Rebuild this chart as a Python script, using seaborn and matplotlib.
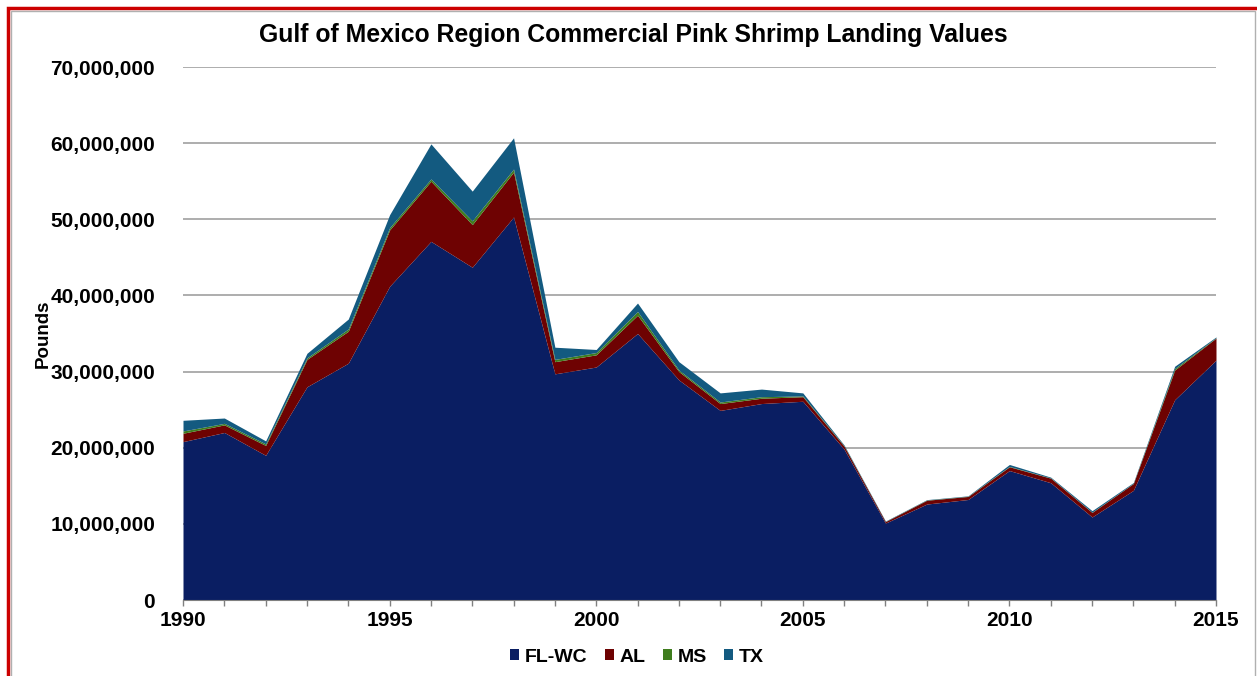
import numpy as np
import pandas as pd
import seaborn as sns
import matplotlib.pyplot as plt
from matplotlib.patches import Rectangle

years = list(range(1990, 2016))

# pounds (millions)
fl_wc = [20.8, 22.0, 19.0, 28.0, 31.1, 41.2, 47.1, 43.7, 50.3, 29.7,
         30.6, 35.0, 28.9, 24.9, 25.8, 26.1, 19.8, 10.1, 12.6, 13.2,
         17.0, 15.4, 10.9, 14.4, 26.3, 31.5]
al = [1.1, 1.0, 1.3, 3.6, 4.2, 7.4, 7.9, 5.6, 5.9, 1.6,
      1.6, 2.4, 1.1, 0.9, 0.7, 0.6, 0.4, 0.2, 0.5, 0.4,
      0.5, 0.6, 0.6, 0.9, 3.9, 2.9]
ms = [0.3, 0.2, 0.2, 0.2, 0.3, 0.3, 0.3, 0.5, 0.4, 0.3,
      0.3, 0.5, 0.2, 0.2, 0.2, 0.1, 0.05, 0.02, 0.03, 0.03,
      0.05, 0.03, 0.03, 0.03, 0.2, 0.05]
tx = [1.4, 0.7, 0.4, 0.6, 1.3, 1.7, 4.6, 3.9, 4.1, 1.6,
      0.4, 1.1, 1.1, 1.2, 1.0, 0.4, 0.1, 0.05, 0.05, 0.05,
      0.25, 0.1, 0.2, 0.1, 0.3, 0.1]

states = ["FL-WC", "AL", "MS", "TX"]
colors = ["#0a1e62", "#6e0202", "#3f7d1e", "#135a80"]

df = pd.DataFrame({"Year": years, "FL-WC": fl_wc, "AL": al, "MS": ms, "TX": tx})
for s in states:
    df[s] = df[s] * 1_000_000

sns.set_style("white")
plt.rcParams["font.family"] = ["Liberation Sans", "DejaVu Sans"]
plt.rcParams["font.weight"] = "bold"
plt.rcParams["text.color"] = "black"
plt.rcParams["xtick.color"] = "#808080"
plt.rcParams["xtick.labelcolor"] = "black"
plt.rcParams["ytick.labelcolor"] = "black"
plt.rcParams["axes.labelcolor"] = "black"

fig = plt.figure(figsize=(12.57, 6.76), dpi=100)
ax = fig.add_axes([183 / 1257, 1 - 600 / 676, (1216 - 183) / 1257, (600 - 67) / 676])

ax.stackplot(df["Year"], [df[s] for s in states], colors=colors, labels=states,
             linewidth=0)

ax.set_xlim(1990, 2015)
ax.set_ylim(0, 70_000_000)
ax.set_yticks(np.arange(0, 70_000_001, 10_000_000))
ax.set_xticks(range(1990, 2016, 5))
ax.set_xticks(years, minor=True)
ax.yaxis.set_major_formatter(lambda v, p: f"{int(v):,}")
ax.grid(axis="y", color="#a0a0a0", linewidth=1.2)
ax.set_axisbelow(True)
for sp in ["top", "right", "left"]:
    ax.spines[sp].set_visible(False)
ax.spines["bottom"].set_color("#808080")
ax.tick_params(axis="both", labelsize=15)
ax.tick_params(axis="y", pad=20, length=0)
ax.tick_params(axis="x", which="both", direction="out", length=4, width=1,
               color="#808080", bottom=True)
ax.tick_params(axis="x", pad=4)
for lab in ax.get_xticklabels() + ax.get_yticklabels():
    lab.set_fontweight("bold")

ax.set_ylabel("Pounds", fontsize=13.5, fontweight="bold")
ax.yaxis.set_label_coords(-0.127, 0.5)

fig.suptitle("Gulf of Mexico Region Commercial Pink Shrimp Landing Values",
             x=633 / 1257, y=1 - 35 / 676, va="center", fontsize=17.8, fontweight="bold")

leg = fig.legend(loc="center", bbox_to_anchor=(637 / 1257, 1 - 657 / 676), ncol=4,
                 frameon=False, fontsize=14, handlelength=0.45, handleheight=0.45,
                 handletextpad=0.3, columnspacing=0.9)
for t in leg.get_texts():
    t.set_fontweight("bold")

# red outer frame and grey inner frame
fig.patches.append(Rectangle((8 / 1257, -0.01), 1.2, 1 - 8 / 676 + 0.01,
                             transform=fig.transFigure, fill=False,
                             edgecolor="#cc0000", linewidth=2.5))
fig.patches.append(Rectangle((11 / 1257, -0.01), (1255 - 11) / 1257, 1 - 11 / 676 + 0.01,
                             transform=fig.transFigure, fill=False,
                             edgecolor="#b0b0b0", linewidth=1.0))

fig.savefig("out.png", dpi=100)
